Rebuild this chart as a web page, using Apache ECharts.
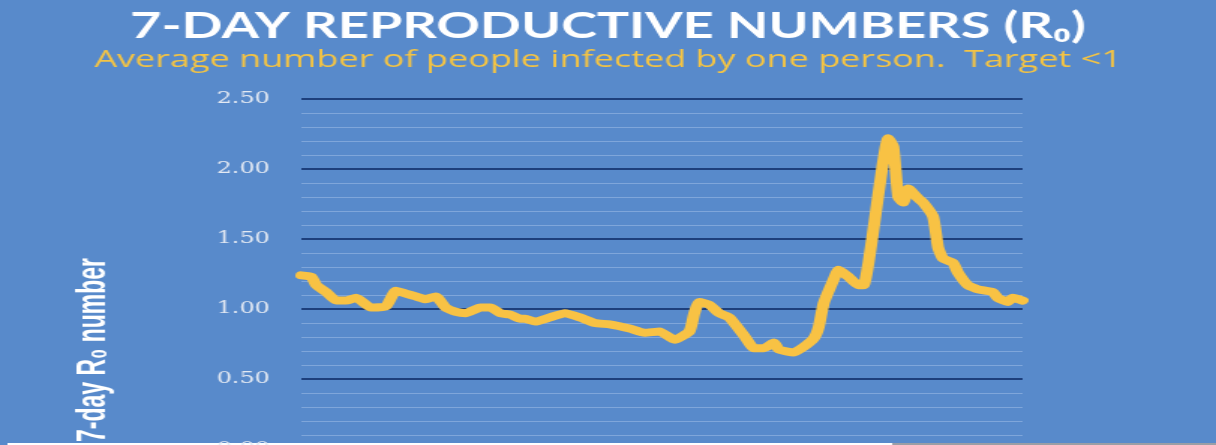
<!DOCTYPE html>
<html>
<head>
<meta charset="utf-8">
<script src="https://cdn.jsdelivr.net/npm/echarts@6/dist/echarts.min.js"></script>
<style>
  html, body { margin: 0; padding: 0; background: #588acb; overflow: hidden; }
  /* the original picture is a horizontally stretched chart, so draw narrow and stretch */
  #chart { width: 811px; height: 445px; transform: scaleX(1.4994); transform-origin: 0 0; }
</style>
</head>
<body>
<div id="chart"></div>
<script>
// day index along the period and the 7-day R0 value
var days = [0, 2, 3, 5, 7, 9, 11, 14, 17, 19, 21, 23, 25, 27, 29, 31, 33, 36, 38, 40,
  42, 44, 45, 47, 50, 53, 56, 59, 62, 66, 69, 72, 75, 78, 79, 80, 82, 84, 86, 89,
  91, 93, 95, 96, 99, 101, 103, 104, 105, 107, 108, 110, 112, 113, 118, 119, 120, 121, 122,
  124, 125, 127, 128, 129, 131, 132, 134, 136, 139, 140, 142, 143, 145];
var r0 = [1.24, 1.23, 1.17, 1.12, 1.06, 1.06, 1.08, 1.01, 1.02, 1.13, 1.11, 1.09, 1.07, 1.09, 1.01, 0.98, 0.97, 1.01, 1.01, 0.97,
  0.96, 0.93, 0.93, 0.91, 0.94, 0.97, 0.94, 0.90, 0.89, 0.86, 0.83, 0.84, 0.78, 0.84, 0.97, 1.05, 1.03, 0.97, 0.94, 0.81,
  0.72, 0.72, 0.76, 0.71, 0.69, 0.73, 0.79, 0.87, 1.04, 1.21, 1.28, 1.23, 1.17, 1.17, 2.22, 2.16, 1.80, 1.76, 1.86,
  1.79, 1.76, 1.66, 1.44, 1.36, 1.33, 1.26, 1.17, 1.14, 1.12, 1.08, 1.05, 1.08, 1.06];
var yTicks = [0, 0.5, 1, 1.5, 2, 2.5];

var chartTitle = "7-DAY REPRODUCTIVE NUMBERS (R\u2080)";
var chartSub = "Average number of people infected by one person.  Target <1";
var yName = "7-day R\u2080 number";

var seriesData = [];
for (var i = 0; i < days.length; i++) {
  seriesData.push([days[i], r0[i]]);
}

var chart = echarts.init(document.getElementById("chart"));
var option = {
  backgroundColor: "#588acb",
  animation: false,
  title: {
    text: chartTitle,
    subtext: chartSub,
    left: "center",
    top: 3,
    itemGap: 4,
    textStyle: {
      color: "#ffffff",
      fontFamily: "Lato",
      fontWeight: "bold",
      fontSize: 36
    },
    subtextStyle: {
      color: "#f4c444",
      fontFamily: "Open Sans",
      fontSize: 24
    }
  },
  grid: {
    left: 201,
    right: 129,
    top: 99,
    bottom: -4,
    outerBoundsMode: "none"
  },
  xAxis: {
    type: "value",
    min: days[0],
    max: days[days.length - 1],
    show: false,
    splitLine: { show: false }
  },
  yAxis: {
    type: "value",
    min: yTicks[0],
    max: yTicks[yTicks.length - 1],
    interval: 0.5,
    axisLine: { show: false },
    axisTick: { show: false },
    axisLabel: {
      margin: 21,
      color: "#e3e9f3",
      fontFamily: "DejaVu Serif",
      fontSize: 16,
      formatter: function (v) { return v.toFixed(2); }
    },
    splitLine: {
      lineStyle: { color: "#1d3f7c", width: 2 }
    },
    minorTick: { show: false, splitNumber: 5 },
    minorSplitLine: {
      show: true,
      lineStyle: { color: "#7fa6da", width: 1 }
    }
  },
  graphic: [
    {
      type: "text",
      x: 62,
      y: 350,
      rotation: Math.PI / 2,
      scaleX: 0.82,
      style: {
        text: yName,
        fill: "#ffffff",
        font: "bold 28px 'Liberation Sans'",
        align: "center",
        verticalAlign: "middle"
      }
    },
    {
      type: "rect",
      shape: { x: 5, y: 443, width: 590, height: 3 },
      style: { fill: "#ffffff" }
    },
    {
      type: "rect",
      shape: { x: 595, y: 443, width: 220, height: 3 },
      style: { fill: "#9a9ea6" }
    }
  ],
  series: [
    {
      name: "7-day R0",
      type: "line",
      data: seriesData,
      smooth: 0.15,
      symbol: "none",
      lineStyle: {
        color: "#f8c244",
        width: 8,
        cap: "round",
        join: "round"
      }
    }
  ]
};
chart.setOption(option);
</script>
</body>
</html>
